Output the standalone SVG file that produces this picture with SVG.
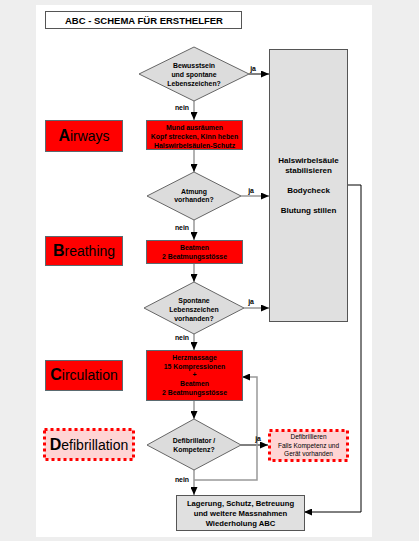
<svg xmlns="http://www.w3.org/2000/svg" width="419" height="541" viewBox="0 0 419 541">
<defs>
<marker id="ah" markerUnits="userSpaceOnUse" markerWidth="9" markerHeight="7" refX="8" refY="3.5" orient="auto">
<path d="M0,0 L8,3.5 L0,7 z" fill="#000"/>
</marker>
<style>
text{font-family:"Liberation Sans",Arial,sans-serif;fill:#000}
.t{font-size:6.9px;font-weight:bold;text-anchor:middle}
.lbl{font-size:6.9px;font-weight:bold;text-anchor:middle}
.big{font-size:14px;text-anchor:middle}
.red{fill:#ff0000;stroke:#5a6a70;stroke-width:1}
.dia{fill:#dcdcdc;stroke:#666;stroke-width:1}
.gbox{fill:#e0e0e0;stroke:#555;stroke-width:1}
.dot{fill:#ffd4d4;stroke:#ff0000;stroke-width:3;stroke-dasharray:3 3}
.cg{fill:none;stroke:#999;stroke-width:1.5}
.cb{fill:none;stroke:#000;stroke-width:1}
</style>
</defs>
<rect x="0" y="0" width="419" height="541" fill="#eeeeee"/>
<rect x="36" y="5" width="336" height="532" fill="#ffffff"/>

<g id="title">
<rect x="45.5" y="11.5" width="196" height="17" fill="#fff" stroke="#555"/>
<text x="144" y="23.5" style="font-size:9.5px;font-weight:bold;text-anchor:middle">ABC - SCHEMA FÜR ERSTHELFER</text>
</g>

<g id="connectors">
<path class="cg" d="M194,101 V120" marker-end="url(#ah)"/>
<path class="cb" d="M249,74 H269" marker-end="url(#ah)"/>
<path class="cg" d="M194,150 V172" marker-end="url(#ah)"/>
<path class="cg" d="M241,196 H269" marker-end="url(#ah)"/>
<path class="cg" d="M194,220 V240" marker-end="url(#ah)"/>
<path class="cg" d="M194,264 V282" marker-end="url(#ah)"/>
<path class="cg" d="M244,308 H269" marker-end="url(#ah)"/>
<path class="cg" d="M194,334 V350" marker-end="url(#ah)"/>
<path class="cg" d="M194,401 V419" marker-end="url(#ah)"/>
<path class="cb" d="M241,445 H268" marker-end="url(#ah)"/>
<path class="cg" d="M194,470 V495" marker-end="url(#ah)"/>
<path class="cg" d="M194,480 H257 V377 H242" marker-end="url(#ah)"/>
<path class="cb" d="M347,185 H361 V512 H304" marker-end="url(#ah)"/>
<text class="lbl" x="253" y="71">ja</text>
<text class="lbl" x="251" y="193">ja</text>
<text class="lbl" x="251" y="304">ja</text>
<text class="lbl" x="258" y="441">ja</text>
<text class="lbl" x="182" y="110">nein</text>
<text class="lbl" x="182" y="230">nein</text>
<text class="lbl" x="182" y="340">nein</text>
<text class="lbl" x="182" y="482">nein</text>
</g>

<g id="q-bewusstsein">
<polygon class="dia" points="194,47 249,74 194,101 139,74"/>
<text class="t" x="194" y="67.5">Bewusstsein</text>
<text class="t" x="194" y="76.5">und spontane</text>
<text class="t" x="194" y="85.5">Lebenszeichen?</text>
</g>

<g id="massnahmen">
<rect class="gbox" x="269.5" y="49.5" width="78" height="272"/>
<text class="t" x="308.5" y="163" style="font-size:8px">Halswirbelsäule</text>
<text class="t" x="308.5" y="173" style="font-size:8px">stabilisieren</text>
<text class="t" x="308.5" y="193" style="font-size:8px">Bodycheck</text>
<text class="t" x="308.5" y="213" style="font-size:8px">Blutung stillen</text>
</g>

<g id="airways">
<rect class="red" x="45.5" y="120.5" width="77" height="31"/>
<text class="big" x="84" y="141"><tspan font-weight="bold" font-size="16px">A</tspan>irways</text>
</g>

<g id="box-mund">
<rect class="red" x="146.5" y="120.5" width="96" height="29"/>
<text class="t" x="194.5" y="129.5">Mund ausräumen</text>
<text class="t" x="194.5" y="138.5">Kopf strecken, Kinn heben</text>
<text class="t" x="194.5" y="147.5">Halswirbelsäulen-Schutz</text>
</g>

<g id="q-atmung">
<polygon class="dia" points="194,172 241,196 194,220 147,196"/>
<text class="t" x="194" y="193.5">Atmung</text>
<text class="t" x="194" y="202">vorhanden?</text>
</g>

<g id="breathing">
<rect class="red" x="45.5" y="236.5" width="77" height="29"/>
<text class="big" x="84" y="255.5"><tspan font-weight="bold" font-size="16px">B</tspan>reathing</text>
</g>

<g id="box-beatmen">
<rect class="red" x="146.5" y="240.5" width="96" height="23"/>
<text class="t" x="194.5" y="249.5">Beatmen</text>
<text class="t" x="194.5" y="258.5">2 Beatmungsstösse</text>
</g>

<g id="q-spontan">
<polygon class="dia" points="194,282 244,308 194,334 144,308"/>
<text class="t" x="194" y="302.5">Spontane</text>
<text class="t" x="194" y="311.5">Lebenszeichen</text>
<text class="t" x="194" y="320.5">vorhanden?</text>
</g>

<g id="circulation">
<rect class="red" x="45.5" y="360.5" width="77" height="30"/>
<text class="big" x="84" y="380"><tspan font-weight="bold" font-size="16px">C</tspan>irculation</text>
</g>

<g id="box-herz">
<rect class="red" x="146.5" y="350.5" width="96" height="50"/>
<text class="t" x="194.5" y="359.5">Herzmassage</text>
<text class="t" x="194.5" y="368.5">15 Kompressionen</text>
<text class="t" x="194.5" y="377">+</text>
<text class="t" x="194.5" y="385.5">Beatmen</text>
<text class="t" x="194.5" y="394.5">2 Beatmungsstösse</text>
</g>

<g id="defibrillation">
<rect class="dot" x="44.5" y="429.5" width="89" height="30"/>
<text class="big" x="89" y="450"><tspan font-weight="bold" font-size="16px">D</tspan>efibrillation</text>
</g>

<g id="q-defi">
<polygon class="dia" points="194,419 241,445 194,470 147,445"/>
<text class="t" x="194" y="442.5">Defibrillator /</text>
<text class="t" x="194" y="451.5">Kompetenz?</text>
</g>

<g id="box-defi">
<rect class="dot" x="269.5" y="430.5" width="78" height="30"/>
<text x="308.5" y="439" style="font-size:6.5px;text-anchor:middle">Defibrillieren</text>
<text x="308.5" y="447.5" style="font-size:6.5px;text-anchor:middle">Falls Kompetenz und</text>
<text x="308.5" y="456" style="font-size:6.5px;text-anchor:middle">Gerät vorhanden</text>
</g>

<g id="box-lagerung">
<rect class="gbox" x="176.5" y="495.5" width="128" height="35"/>
<text class="t" x="240.5" y="505.5" style="font-size:7.7px">Lagerung, Schutz, Betreuung</text>
<text class="t" x="240.5" y="515.5" style="font-size:7.7px">und weitere Massnahmen</text>
<text class="t" x="240.5" y="525.5" style="font-size:7.7px">Wiederholung ABC</text>
</g>
</svg>
